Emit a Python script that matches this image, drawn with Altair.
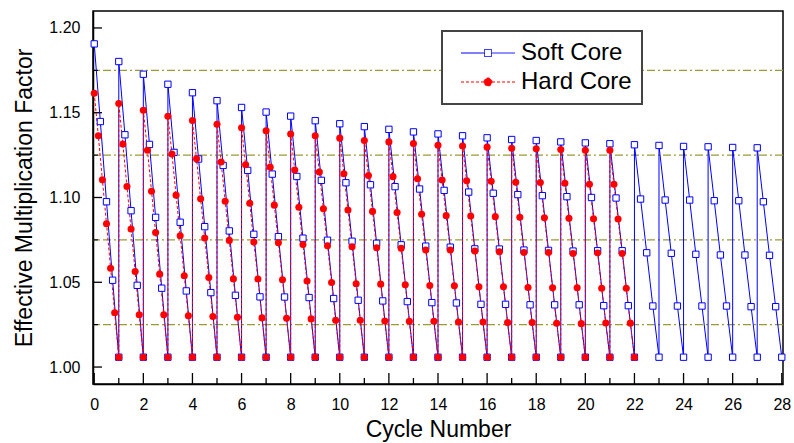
import altair as alt
import pandas as pd

# ---------------- data ----------------
soft_peak = [1.1906, 1.1802, 1.1727, 1.1668, 1.1618, 1.1571, 1.1531, 1.1504, 1.1480, 1.1453,
             1.1435, 1.1418, 1.1402, 1.1387, 1.1375, 1.1364, 1.1352, 1.1342, 1.1336, 1.1328,
             1.1322, 1.1317, 1.1311, 1.1307, 1.1301, 1.1299, 1.1295, 1.1293]
soft_q1 = [1.1448, 1.1370, 1.1313, 1.1266, 1.1227, 1.1189, 1.1160, 1.1138, 1.1124, 1.1101,
           1.1087, 1.1075, 1.1064, 1.1050, 1.1042, 1.1032, 1.1025, 1.1017, 1.1011, 1.1005,
           1.1000, 1.0997, 1.0991, 1.0985, 1.0985, 1.0981, 1.0981, 1.0975]
soft_q2 = [1.0975, 1.0922, 1.0883, 1.0854, 1.0828, 1.0803, 1.0783, 1.0769, 1.0760, 1.0748,
           1.0742, 1.0730, 1.0721, 1.0713, 1.0707, 1.0697, 1.0696, 1.0690, 1.0688, 1.0684,
           1.0686, 1.0686, 1.0674, 1.0671, 1.0665, 1.0661, 1.0661, 1.0659]
soft_q3 = [1.0512, 1.0482, 1.0465, 1.0449, 1.0439, 1.0423, 1.0414, 1.0413, 1.0410, 1.0404,
           1.0394, 1.0390, 1.0386, 1.0380, 1.0378, 1.0370, 1.0370, 1.0367, 1.0367, 1.0367,
           1.0362, 1.0362, 1.0360, 1.0360, 1.0360, 1.0360, 1.0356, 1.0356]

hard_peak = [1.1615, 1.1554, 1.1515, 1.1479, 1.1454, 1.1432, 1.1411, 1.1393, 1.1375, 1.1364,
             1.1350, 1.1336, 1.1328, 1.1318, 1.1308, 1.1304, 1.1297, 1.1291, 1.1287, 1.1283,
             1.1279, 1.1279]
hard_s1 = [1.1364, 1.1315, 1.1279, 1.1256, 1.1228, 1.1209, 1.1193, 1.1179, 1.1162, 1.1150,
           1.1140, 1.1130, 1.1123, 1.1111, 1.1103, 1.1099, 1.1096, 1.1090, 1.1088, 1.1084,
           1.1078, 1.1078]
hard_s2 = [1.1104, 1.1065, 1.1037, 1.1014, 1.0992, 1.0978, 1.0966, 1.0955, 1.0943, 1.0933,
           1.0926, 1.0918, 1.0912, 1.0901, 1.0893, 1.0891, 1.0887, 1.0883, 1.0881, 1.0877,
           1.0875, 1.0873]
hard_s3 = [1.0845, 1.0814, 1.0794, 1.0774, 1.0761, 1.0747, 1.0737, 1.0733, 1.0723, 1.0715,
           1.0710, 1.0704, 1.0700, 1.0690, 1.0690, 1.0684, 1.0680, 1.0676, 1.0676, 1.0670,
           1.0673, 1.0670]
hard_s4 = [1.0583, 1.0564, 1.0548, 1.0538, 1.0528, 1.0520, 1.0519, 1.0515, 1.0507, 1.0499,
           1.0491, 1.0489, 1.0485, 1.0481, 1.0479, 1.0473, 1.0473, 1.0469, 1.0467, 1.0467,
           1.0465, 1.0465]
hard_s5 = [1.0320, 1.0308, 1.0308, 1.0302, 1.0298, 1.0294, 1.0290, 1.0288, 1.0284, 1.0276,
           1.0276, 1.0272, 1.0270, 1.0270, 1.0266, 1.0266, 1.0262, 1.0262, 1.0258, 1.0256,
           1.0260, 1.0259]
cycle_end_value = 1.0058

series_names = ["Soft Core", "Hard Core"]
series_colors = ["#0000ff", "#ff0000"]
ref_levels = [1.025, 1.075, 1.125, 1.175]
x_major = list(range(0, 29, 2))
x_minor = list(range(1, 28, 2))
y_major = [1.00, 1.05, 1.10, 1.15, 1.20]
y_minor = [1.025, 1.075, 1.125, 1.175]


def build(name, columns):
    rows = []
    idx = 0
    steps = len(columns)
    for c, vals in enumerate(zip(*columns)):
        for k, v in enumerate(vals):
            rows.append({"series": name, "x": c + k / steps, "y": v, "order": idx})
            idx += 1
        rows.append({"series": name, "x": c + 1, "y": cycle_end_value, "order": idx})
        idx += 1
    return rows


soft_df = pd.DataFrame(build("Soft Core", [soft_peak, soft_q1, soft_q2, soft_q3]))
hard_df = pd.DataFrame(build("Hard Core", [hard_peak, hard_s1, hard_s2, hard_s3, hard_s4, hard_s5]))

W, H = 690, 373
FONT = "Liberation Sans"
xscale = alt.Scale(domain=[-0.05, 28.05], nice=False, zero=False)
yscale = alt.Scale(domain=[0.99, 1.21], nice=False, zero=False)

x_axis = alt.Axis(values=x_major, format="d", ticks=False, grid=False, domainColor="black",
                  domainWidth=1.5, labelFontSize=16, labelPadding=12, labelColor="black",
                  title="Cycle Number", titleFontSize=23, titleFontWeight="normal",
                  titlePadding=6, titleColor="black", labelFlush=False)
y_axis = alt.Axis(values=y_major, format=".2f", ticks=False, grid=False, domainColor="black",
                  domainWidth=1.5, labelFontSize=16, labelPadding=13, labelColor="black",
                  title="Effective Multiplication Factor", titleFontSize=23,
                  titleFontWeight="normal", titlePadding=12, titleColor="black")


def X(field="x:Q"):
    return alt.X(field, scale=xscale, axis=x_axis)


def Y(field="y:Q"):
    return alt.Y(field, scale=yscale, axis=y_axis)


ref = alt.Chart(pd.DataFrame({"level": ref_levels})).mark_rule(
    color="#9a9a38", strokeWidth=1.3, strokeDash=[8, 3, 2, 3]
).encode(y=Y("level:Q"))

xt_major = alt.Chart(pd.DataFrame({"t": x_major})).mark_rule(color="black", strokeWidth=1.3).encode(
    x=X("t:Q"), y=alt.value(H), y2=alt.value(H - 11))
xt_minor = alt.Chart(pd.DataFrame({"t": x_minor})).mark_rule(color="black", strokeWidth=1.3).encode(
    x=X("t:Q"), y=alt.value(H), y2=alt.value(H - 6))
yt_major = alt.Chart(pd.DataFrame({"t": y_major})).mark_rule(color="black", strokeWidth=1.3).encode(
    y=Y("t:Q"), x=alt.value(0), x2=alt.value(9))
yt_minor = alt.Chart(pd.DataFrame({"t": y_minor})).mark_rule(color="black", strokeWidth=1.3).encode(
    y=Y("t:Q"), x=alt.value(0), x2=alt.value(5))

soft_line = alt.Chart(soft_df).mark_line(color="#0000ff", strokeWidth=1).encode(
    x=X(), y=Y(), order="order:Q")
hard_line = alt.Chart(hard_df).mark_line(color="#ff0000", strokeWidth=1, strokeDash=[3, 2]).encode(
    x=X(), y=Y(), order="order:Q")
soft_pts = alt.Chart(soft_df).mark_square(size=40, fill="white", stroke="#0000ff",
                                          strokeWidth=1, opacity=1).encode(x=X(), y=Y())
hard_pts = alt.Chart(hard_df).mark_circle(size=50, opacity=1, color="#ff0000").encode(x=X(), y=Y())

# legend-only layer: its scales carry the legend symbols (line + marker)
SOFT_PATH = "M-6.75,0H-0.875M0.875,0H6.75M-0.875,-0.875H0.875V0.875H-0.875Z"
HARD_PATH = "M-6.75,0H-1M1,0H6.75M-1,0A1,1,0,1,1,1,0A1,1,0,1,1,-1,0Z"

legend = alt.Legend(
    orient="none", legendX=349, legendY=20, title=None, padding=10,
    fillColor="white", strokeColor="#444444",
    labelFont=FONT, labelFontSize=24, labelColor="black",
    labelExpr="datum.label + '\u2003'",
    symbolSize=64, symbolOffset=24, labelOffset=21, rowPadding=5,
    symbolStrokeWidth=1, symbolOpacity=1,
)
legend_layer = alt.Chart(pd.DataFrame({"series": series_names})).transform_filter(
    "false"
).mark_point(size=64, filled=True, strokeWidth=1, opacity=1).encode(
    stroke=alt.Stroke("series:N", scale=alt.Scale(domain=series_names, range=series_colors),
                      legend=legend),
    fill=alt.Fill("series:N", scale=alt.Scale(domain=series_names, range=["white", "#ff0000"]),
                  legend=legend),
    shape=alt.Shape("series:N", scale=alt.Scale(domain=series_names, range=[SOFT_PATH, HARD_PATH]),
                    legend=legend),
    strokeDash=alt.StrokeDash("series:N", scale=alt.Scale(domain=series_names, range=[[1, 0], [3, 2]]),
                              legend=legend),
)

chart = alt.layer(
    ref, xt_major, xt_minor, yt_major, yt_minor, soft_line, hard_line, soft_pts, hard_pts,
    legend_layer
).properties(
    width=W, height=H,
    padding={"left": 93, "top": 11, "right": 11, "bottom": 59},
    autosize=alt.AutoSizeParams(type="none"),
    background="white",
).configure_view(
    stroke="black", strokeWidth=1.5
).configure_axis(
    labelFont=FONT, titleFont=FONT
).configure_legend(
    strokeWidth=2
)

chart.save("out.html", embed_options={"renderer": "svg", "actions": False})
